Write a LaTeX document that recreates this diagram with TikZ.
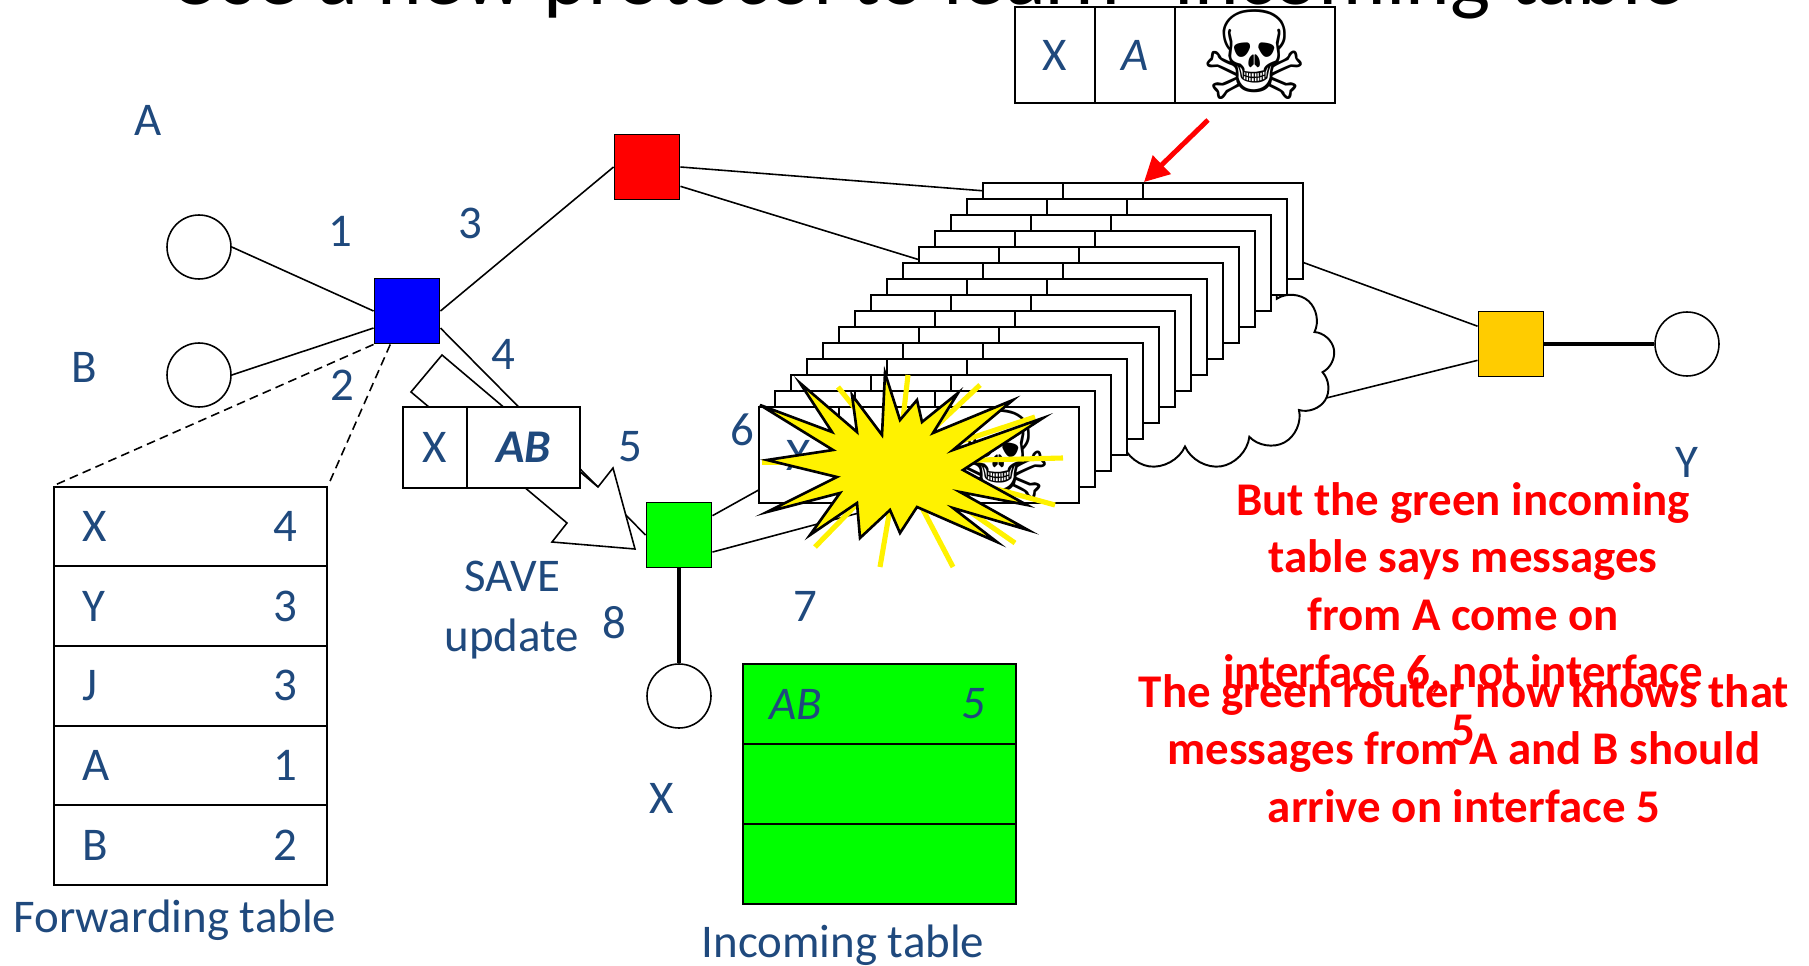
\documentclass[tikz,border=0pt]{standalone}
\usepackage{fontspec}
\setmainfont{Carlito}
\newfontfamily\symfont{DejaVu Sans}
\usetikzlibrary{shapes,shapes.symbols,arrows.meta,positioning,calc}

\definecolor{lblue}{RGB}{31,73,125}
\definecolor{lgreen}{RGB}{0,255,0}
\definecolor{amber}{RGB}{255,204,0}

% skull and crossbones for the forged packets
\newcommand{\skull}{{\symfont\fontsize{70}{70}\selectfont ☠}}

\begin{document}
\begin{tikzpicture}[
    x=0.02cm, y=-0.02cm,
    font=\fontsize{26.7}{32}\selectfont,
    lbl/.style={text=lblue, inner sep=0pt},
    host/.style={draw, circle, line width=0.9pt, fill=white, minimum size=1.28cm, inner sep=0pt},
    router/.style={draw, line width=1.1pt, minimum size=1.3cm, inner sep=0pt},
    link/.style={line width=0.9pt},
    heavy/.style={line width=1.9pt},
    pkcell/.style={draw, line width=1.1pt, fill=white, minimum height=1.92cm, inner sep=0pt, text=lblue},
    tabrow/.style={draw, line width=1.1pt, minimum width=5.46cm, minimum height=1.59cm, inner sep=0pt},
    ray/.style={yellow, line width=2.9pt},
    note/.style={text=red, font=\fontsize{26.7}{32.7}\selectfont\bfseries, align=center, inner sep=0pt}
]
\useasboundingbox (0,0) rectangle (1809,966);

% heading, only its lower edge is on the page
\begin{scope}
\clip (0,0) rectangle (1809,966);
\node[anchor=base, inner sep=0pt, font=\fontsize{48.3}{50}\selectfont] (title) at (944,5) {Use a new protocol to learn “incoming table”};
\end{scope}

% hosts and routers
\node[host] (hostA) at (199,247) {};
\node[host] (hostB) at (199,375) {};
\node[host] (hostX) at (679,696) {};
\node[host] (hostY) at (1687,344) {};
\node[router, fill=blue] (blue) at (407,311) {};
\node[router, fill=red] (red) at (647,167) {};
\node[router, fill=lgreen] (green) at (679,535) {};
\node[router, fill=amber] (amber) at (1511,344) {};

% where the links run into the cloud
\coordinate (cr1) at (1100,200);
\coordinate (cr2) at (1050,300);
\coordinate (cg1) at (800,467);
\coordinate (cg2) at (900,502);
\coordinate (cy1) at (1250,243);
\coordinate (cy2) at (1250,417);

% links
\draw[link] (hostA.east) -- (blue.west);
\draw[link] (hostB.east) -- (blue.207);
\draw[link] (blue.east) -- (red.west);
\draw[link] (blue.-27) -- (green.west);
\draw[link] (red.east) -- (cr1);
\draw[link] (red.-30) -- (cr2);
\draw[link] (green.30) -- (cg1);
\draw[link] (green.-27) -- (cg2);
\draw[link] (amber.152) -- (cy1);
\draw[link] (amber.206) -- (cy2);
\draw[heavy] (amber.east) -- (hostY.west);
\draw[heavy] (green.south) -- (hostX.north);

\node[cloud, draw, fill=white, line width=1.1pt, cloud puffs=13, minimum width=6cm, minimum height=4.3cm] (cloud) at (1185,362) {};

% stack of forged packets, back to front
\foreach \i in {0,...,14}{
  \pgfmathsetmacro{\px}{983-16*\i}
  \pgfmathsetmacro{\py}{231+16*\i}
  \node[pkcell, minimum width=1.6cm] (pk\i-a) at (\px+40,\py) {};
  \node[pkcell, minimum width=1.6cm] (pk\i-b) at (\px+120,\py) {};
  \node[pkcell, minimum width=3.2cm] (pk\i-c) at (\px+240,\py) {};
}
\node[lbl] (pkx) at (pk14-a) {X};
\node (pkskull) at (pk14-c) {\skull};

% explosion
\coordinate (boomc) at (898,462);
\foreach \p in {(838,387),(908,375),(980,385),(1035,417),(1063,458),(1055,505),(1015,543),(953,567),(880,567),(815,547),(762,462)}
  \draw[ray] (boomc) -- \p;
\draw[fill=yellow, line width=1.5pt, line join=miter]
  (760,405) -- (832,432) -- (800,383) -- (857,432) -- (852,395) -- (882,435)
  -- (885,373) -- (900,420) -- (917,400) -- (922,422) -- (958,393) -- (933,433)
  -- (1013,400) -- (953,450) -- (1043,418) -- (963,470) -- (1027,505) -- (960,492)
  -- (1028,530) -- (953,508) -- (997,542) -- (917,507) -- (900,533) -- (890,510)
  -- (860,538) -- (857,503) -- (810,535) -- (840,493) -- (767,512) -- (837,477)
  -- (767,460) -- (833,450) -- cycle;

% update message
\draw[line width=0.9pt, fill=white] (411,392) -- (442,355) -- (598,487) -- (613,468) -- (635,549) -- (552,542) -- (567,523) -- cycle;
\node[pkcell, minimum width=1.28cm, minimum height=1.62cm] (upd-x) at (435,447.5) {X};
\node[pkcell, minimum width=2.26cm, minimum height=1.62cm] (upd-ab) at (523.5,447.5) {\textbf{\textit{AB}}};
\node[lbl, align=center, font=\fontsize{26.7}{34}\selectfont] (save) at (512,610) {SAVE\\update};

% forwarding table of the blue router
\foreach \k/\v [count=\n] in {X/4, Y/3, J/3, A/1, B/2}{
  \node[tabrow] (fw\n) at (190.5,447+79.6*\n) {};
  \node[lbl, anchor=west] (fw\n-k) at ($(fw\n.west)+(29,0)$) {\k};
  \node[lbl, anchor=east] (fw\n-v) at ($(fw\n.east)+(-30,0)$) {\v};
}
\draw[link, dash pattern=on 5pt off 3pt] (blue.south west) -- (fw1.north west);
\draw[link, dash pattern=on 5pt off 3pt] ($(blue.south west)!0.25!(blue.south east)$) -- (fw1.north east);
\node[lbl, anchor=base] (fwcap) at (175,932) {Forwarding table};

% incoming table of the green router
\foreach \n in {1,2,3}
  \node[tabrow, fill=lgreen, minimum height=1.6cm] (in\n) at (879.5,624+80*\n) {};
\node[lbl, anchor=west] (in1-k) at ($(in1.west)+(27,0)$) {\textit{AB}};
\node[lbl, anchor=east] (in1-v) at ($(in1.east)+(-31,0)$) {\textit{5}};
\node[lbl, anchor=base] (incap) at (843,957) {Incoming table};

% host names and interface numbers
\node[lbl] (labA) at (148,120) {A};
\node[lbl] (labB) at (84,367) {B};
\node[lbl] (labX) at (662,798) {X};
\node[lbl] (labY) at (1687,462) {Y};
\node[lbl] (if1) at (340,231) {1};
\node[lbl] (if2) at (342,385) {2};
\node[lbl] (if3) at (470,223) {3};
\node[lbl] (if4) at (503,354) {4};
\node[lbl] (if5) at (630,447) {5};
\node[lbl] (if6) at (742,430) {6};
\node[lbl] (if7) at (805,606) {7};
\node[lbl] (if8) at (614,623) {8};

% the forged packet on its way in
\node[pkcell, minimum width=1.6cm] (msg-x) at (1055,55) {X};
\node[pkcell, minimum width=1.6cm] (msg-a) at (1135,55) {\textit{A}};
\node[pkcell, minimum width=3.2cm, text=black] (msg-c) at (1255,55) {\skull};
\coordinate (warn) at (1208,120);
\draw[red, line width=2.8pt, -{Triangle[length=0.5cm,width=0.5cm]}] (warn) -- (pk0-b.north east);

% comments in red (base is the last line)
\node[note, anchor=base] (why) at (1463,745) {But the green incoming\\table says messages\\from A come on\\interface 6, not interface\\5};
\node[note, anchor=base] (knows) at (1464,822) {The green router now knows that\\messages from A and B should\\arrive on interface 5};

\end{tikzpicture}
\end{document}
